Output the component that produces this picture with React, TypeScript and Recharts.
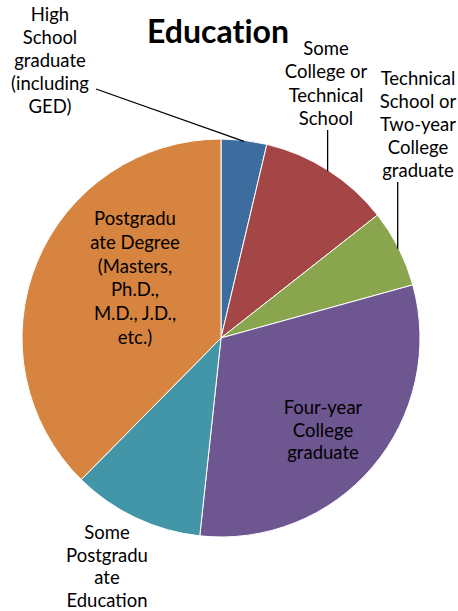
import { Cell, Pie, PieChart } from "recharts";

// slice order: clockwise from 12 o'clock
const categories = [
  "High School graduate (including GED)",
  "Some College or Technical School",
  "Technical School or Two-year College graduate",
  "Four-year College graduate",
  "Some Postgraduate Education",
  "Postgraduate Degree (Masters, Ph.D., M.D., J.D., etc.)",
];
const shares = [3.7, 10.7, 6.3, 31.0, 10.7, 37.6];
const labelLines = [
  ["High", "School", "graduate", "(including", "GED)"],
  ["Some", "College or", "Technical", "School"],
  ["Technical", "School or", "Two-year", "College", "graduate"],
  ["Four-year", "College", "graduate"],
  ["Some", "Postgradu", "ate", "Education"],
  ["Postgradu", "ate Degree", "(Masters,", "Ph.D.,", "M.D., J.D.,", "etc.)"],
];

const COLORS = ["#3d6d9e", "#a44646", "#89a54e", "#6e5791", "#4395a8", "#d6843f"];
const FONT = "Lato, 'Open Sans', sans-serif";

// where each label block sits (center x, first line center y, line height)
// and where its leader line starts, if it has one
const LABEL_LAYOUT = [
  { x: 50, y: 14, lh: 23, from: [96, 89] as [number, number] | null, vertical: false },
  { x: 326, y: 48, lh: 23.3, from: [0, 130] as [number, number] | null, vertical: true },
  { x: 418, y: 78, lh: 23, from: [0, 182] as [number, number] | null, vertical: true },
  { x: 323, y: 407, lh: 22.5, from: null, vertical: false },
  { x: 107, y: 532, lh: 22.7, from: null, vertical: false },
  { x: 135, y: 218, lh: 23.8, from: null, vertical: false },
];

const data = categories.map((name, i) => ({ name, value: shares[i] }));

const RAD = Math.PI / 180;

function renderLabel(props: any) {
  const { cx, cy, midAngle, outerRadius, index } = props;
  const lay = LABEL_LAYOUT[index];
  const lines = labelLines[index];
  let leader = null;
  if (lay.from) {
    const r = outerRadius - 1;
    const ex = cx + r * Math.cos(-midAngle * RAD);
    const ey = cy + r * Math.sin(-midAngle * RAD);
    const sx = lay.vertical ? ex : lay.from[0];
    leader = <line x1={sx} y1={lay.from[1]} x2={ex} y2={ey} stroke="#000" strokeWidth={1.3} />;
  }
  return (
    <g key={`lbl-${index}`}>
      {leader}
      {lines.map((t, j) => (
        <text
          key={j}
          x={lay.x}
          y={lay.y + j * lay.lh}
          textAnchor="middle"
          dominantBaseline="central"
          fontFamily={FONT}
          fontSize={18.5}
          fill="#000"
        >
          {t}
        </text>
      ))}
    </g>
  );
}

export default function App() {
  return (
    <div style={{ width: 458, height: 611, background: "#fff" }}>
      <style>{`body{margin:0}`}</style>
      <PieChart width={458} height={611} margin={{ top: 0, right: 0, bottom: 0, left: 0 }}>
        <text
          x={218}
          y={30}
          textAnchor="middle"
          dominantBaseline="central"
          fontFamily={FONT}
          fontWeight="bold"
          fontSize={32}
          fill="#000"
          style={{ fontVariantLigatures: "none" }}
        >
          Education
        </text>
        <Pie
          data={data}
          dataKey="value"
          nameKey="name"
          cx={221}
          cy={338}
          outerRadius={199}
          startAngle={90}
          endAngle={-270}
          stroke="#fff"
          strokeWidth={1}
          label={renderLabel}
          labelLine={false}
          isAnimationActive={false}
        >
          {data.map((d, i) => (
            <Cell key={d.name} fill={COLORS[i]} />
          ))}
        </Pie>
      </PieChart>
    </div>
  );
}
